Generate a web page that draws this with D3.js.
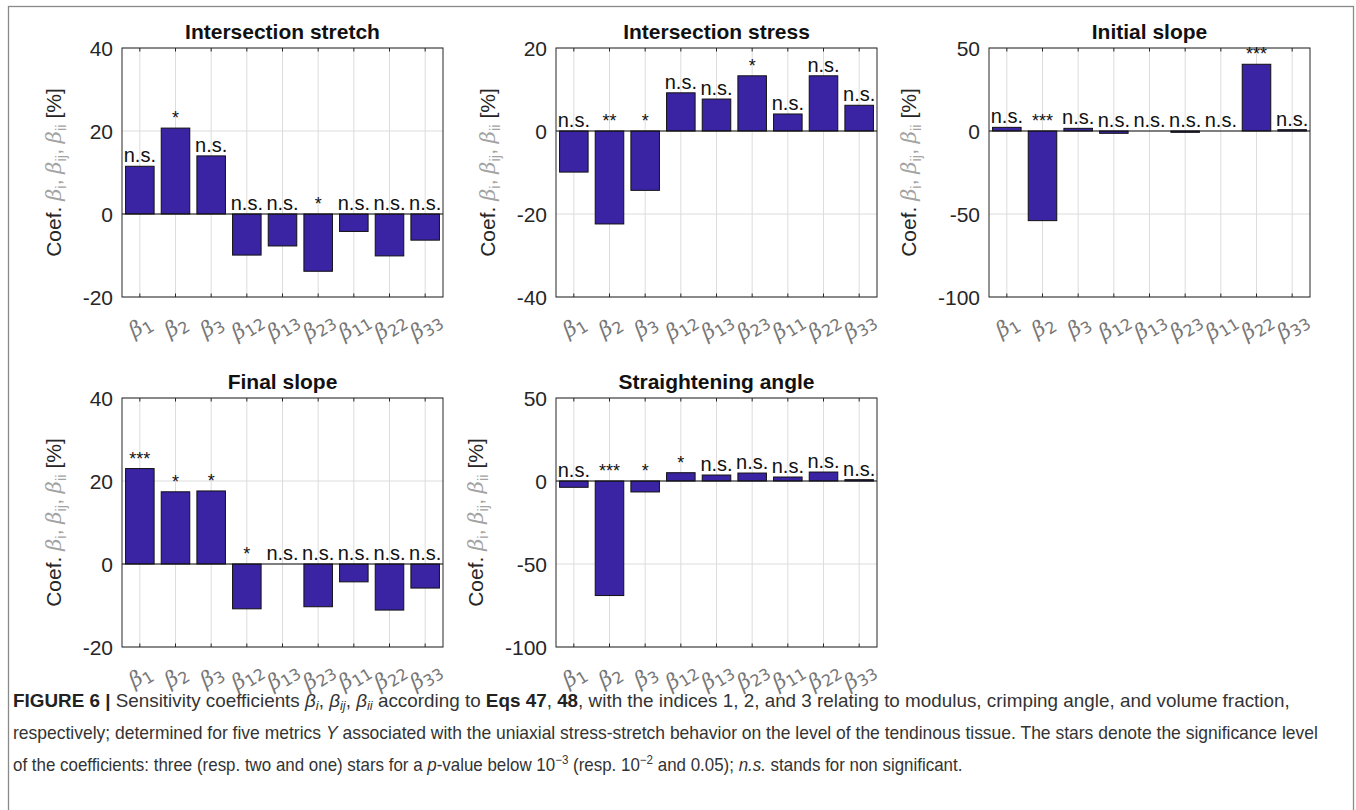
<!DOCTYPE html>
<meta charset="utf-8">
<style>
body { margin: 0; background: #fff; }
text { font-family: "Liberation Sans", Arial, sans-serif; }
</style>
<body>
<script src="https://cdn.jsdelivr.net/npm/d3@7"></script>
<script>
var width = 1356,
    height = 810;

// coefficient indices, in plotted order
var categories = ["1", "2", "3", "12", "13", "23", "11", "22", "33"];

var titles = ["Intersection stretch", "Intersection stress", "Initial slope", "Final slope", "Straightening angle"];

var stretchValues = [11.5, 20.7, 14.0, -9.9, -7.7, -13.8, -4.2, -10.1, -6.3];
var stretchSig = ["n.s.", "*", "n.s.", "n.s.", "n.s.", "*", "n.s.", "n.s.", "n.s."];
var stretchTicks = [-20, 0, 20, 40];

var stressValues = [-9.9, -22.4, -14.3, 9.2, 7.7, 13.3, 4.1, 13.3, 6.2];
var stressSig = ["n.s.", "**", "*", "n.s.", "n.s.", "*", "n.s.", "n.s.", "n.s."];
var stressTicks = [-40, -20, 0, 20];

var initialValues = [2.2, -54, 1.6, -1.4, 0, -0.8, 0, 40.2, 0.8];
var initialSig = ["n.s.", "***", "n.s.", "n.s.", "n.s.", "n.s.", "n.s.", "***", "n.s."];
var initialTicks = [-100, -50, 0, 50];

var finalValues = [23.0, 17.4, 17.6, -10.8, 0, -10.3, -4.3, -11.1, -5.8];
var finalSig = ["***", "*", "*", "*", "n.s.", "n.s.", "n.s.", "n.s.", "n.s."];
var finalTicks = [-20, 0, 20, 40];

var angleValues = [-3.8, -69, -6.6, 5.0, 3.6, 4.8, 2.4, 5.4, 0.8];
var angleSig = ["n.s.", "***", "*", "*", "n.s.", "n.s.", "n.s.", "n.s.", "n.s."];
var angleTicks = [-100, -50, 0, 50];

var panels = [
  {title: titles[0], values: stretchValues, sig: stretchSig, ticks: stretchTicks, left: 122, top: 48},
  {title: titles[1], values: stressValues, sig: stressSig, ticks: stressTicks, left: 556, top: 48},
  {title: titles[2], values: initialValues, sig: initialSig, ticks: initialTicks, left: 989, top: 48},
  {title: titles[3], values: finalValues, sig: finalSig, ticks: finalTicks, left: 122, top: 398},
  {title: titles[4], values: angleValues, sig: angleSig, ticks: angleTicks, left: 556, top: 398}
];

var pw = 321, ph = 249;
var barColor = "#3a24a3";
var greyBeta = "#a3a3a3";

var svg = d3.select("body").append("svg")
    .attr("width", width)
    .attr("height", height);

svg.append("rect")
    .attr("x", 8.5).attr("y", 6.5)
    .attr("width", 1345).attr("height", 900)
    .attr("fill", "none").attr("stroke", "#8a8a8a").attr("stroke-width", 1.3);

// writes a list of styled pieces into a text element
function rich(sel, parts) {
  var shift = 0;
  parts.forEach(function(p) {
    var ts = sel.append("tspan").text(p.t);
    var target = p.sub ? p.sub : (p.sup ? -p.sup : 0);
    if (target !== shift) ts.attr("dy", target - shift);
    shift = target;
    if (p.b) ts.attr("font-weight", "bold");
    if (p.i) ts.attr("font-style", "italic");
    if (p.f) ts.attr("font-family", p.f);
    if (p.c) ts.attr("fill", p.c);
    if (p.s) ts.attr("font-size", p.s);
  });
}

panels.forEach(function(p) {
  var g = svg.append("g").attr("transform", "translate(" + p.left + "," + p.top + ")");

  var x = d3.scaleBand().domain(categories).range([0, pw]).paddingInner(0.2).paddingOuter(0.1);
  var y = d3.scaleLinear().domain(d3.extent(p.ticks)).range([ph, 0]);
  var cx = function(d) { return x(d) + x.bandwidth() / 2; };

  // grid
  g.selectAll(".vg").data(categories).enter().append("line")
      .attr("x1", cx).attr("x2", cx).attr("y1", 0).attr("y2", ph)
      .attr("stroke", "#dcdcdc").attr("stroke-width", 1);
  g.selectAll(".hg").data(p.ticks).enter().append("line")
      .attr("x1", 0).attr("x2", pw).attr("y1", y).attr("y2", y)
      .attr("stroke", "#dcdcdc").attr("stroke-width", 1);

  // bars
  g.selectAll(".bar").data(p.values).enter().append("rect")
      .attr("x", function(d, i) { return x(categories[i]); })
      .attr("width", x.bandwidth())
      .attr("y", function(d) { return y(Math.max(d, 0)); })
      .attr("height", function(d) { return Math.abs(y(d) - y(0)); })
      .attr("fill", barColor).attr("stroke", "#111").attr("stroke-width", 1);

  // baseline
  g.append("line").attr("x1", 0).attr("x2", pw).attr("y1", y(0)).attr("y2", y(0))
      .attr("stroke", "#111").attr("stroke-width", 1.2);

  // box and inward ticks
  g.append("rect").attr("width", pw).attr("height", ph)
      .attr("fill", "none").attr("stroke", "#262626").attr("stroke-width", 1);
  categories.forEach(function(c) {
    g.append("line").attr("x1", cx(c)).attr("x2", cx(c)).attr("y1", ph).attr("y2", ph - 3.5).attr("stroke", "#262626");
    g.append("line").attr("x1", cx(c)).attr("x2", cx(c)).attr("y1", 0).attr("y2", 3.5).attr("stroke", "#262626");
  });

  // y tick labels
  var maxW = 0;
  p.ticks.forEach(function(t) {
    var tx = g.append("text").attr("x", -9).attr("y", y(t)).attr("dy", "0.36em")
        .attr("text-anchor", "end").attr("font-size", 21).attr("fill", "#262626").text(t);
    maxW = Math.max(maxW, tx.node().getComputedTextLength());
  });

  // significance labels
  g.selectAll(".sig").data(p.sig).enter().append("text")
      .attr("x", function(d, i) { return cx(categories[i]); })
      .attr("y", function(d, i) { return y(Math.max(p.values[i], 0)) - 4; })
      .attr("text-anchor", "middle")
      .attr("font-size", function(d) { return d === "n.s." ? 20 : 18; })
      .attr("fill", "#111")
      .text(function(d) { return d; });

  // title
  g.append("text").attr("x", pw / 2).attr("y", -9).attr("text-anchor", "middle")
      .attr("font-size", 21).attr("font-weight", "bold").attr("fill", "#111").text(p.title);

  // x tick labels
  categories.forEach(function(c) {
    var t = g.append("text")
        .attr("transform", "translate(" + (cx(c) + 4) + "," + (ph + 35) + ") rotate(-32)")
        .attr("text-anchor", "middle").attr("font-size", 21).attr("fill", "#777");
    rich(t, [{t: "β", i: true, f: "DejaVu Serif"}, {t: c, sub: 4, s: 16, f: "DejaVu Sans"}]);
  });

  // y label
  var lx = -9 - maxW - 22;
  var yl = g.append("text")
      .attr("transform", "translate(" + lx + "," + (ph / 2) + ") rotate(-90)")
      .attr("text-anchor", "middle").attr("font-size", 21).attr("fill", "#262626");
  rich(yl, [
    {t: "Coef. "},
    {t: "β", i: true, f: "DejaVu Serif", c: greyBeta},
    {t: "i", sub: 5, s: 15, c: greyBeta},
    {t: ", ", c: greyBeta},
    {t: "β", i: true, f: "DejaVu Serif", c: greyBeta},
    {t: "ij", sub: 5, s: 15, c: greyBeta},
    {t: ", ", c: greyBeta},
    {t: "β", i: true, f: "DejaVu Serif", c: greyBeta},
    {t: "ii", sub: 5, s: 15, c: greyBeta},
    {t: " [%]"}
  ]);
});

// caption
var captionLines = [
  {y: 707, w: 1277, parts: [
    {t: "FIGURE 6 | ", b: true, c: "#222"},
    {t: "Sensitivity coefficients "},
    {t: "β", i: true}, {t: "i", i: true, sub: 3, s: 12}, {t: ", "},
    {t: "β", i: true}, {t: "ij", i: true, sub: 3, s: 12}, {t: ", "},
    {t: "β", i: true}, {t: "ii", i: true, sub: 3, s: 12},
    {t: " according to "}, {t: "Eqs 47", b: true, c: "#222"}, {t: ", "}, {t: "48", b: true, c: "#222"},
    {t: ", with the indices 1, 2, and 3 relating to modulus, crimping angle, and volume fraction,"}
  ]},
  {y: 739, w: 1306, parts: [
    {t: "respectively; determined for five metrics "}, {t: "Y", i: true},
    {t: " associated with the uniaxial stress-stretch behavior on the level of the tendinous tissue. The stars denote the significance level"}
  ]},
  {y: 771, w: 950, parts: [
    {t: "of the coefficients: three (resp. two and one) stars for a "}, {t: "p", i: true},
    {t: "-value below 10"}, {t: "−3", sup: 7, s: 12},
    {t: " (resp. 10"}, {t: "−2", sup: 7, s: 12},
    {t: " and 0.05); "}, {t: "n.s.", i: true}, {t: " stands for non significant."}
  ]}
];

captionLines.forEach(function(l) {
  var t = svg.append("text").attr("x", 0).attr("y", l.y)
      .attr("font-family", "'Liberation Sans Narrow', 'Liberation Sans', sans-serif")
      .attr("font-size", 17.5).attr("fill", "#333");
  rich(t, l.parts);
  var w = t.node().getComputedTextLength();
  t.attr("transform", "translate(13,0) scale(" + (l.w / w) + ",1)");
});
</script>
</body>
